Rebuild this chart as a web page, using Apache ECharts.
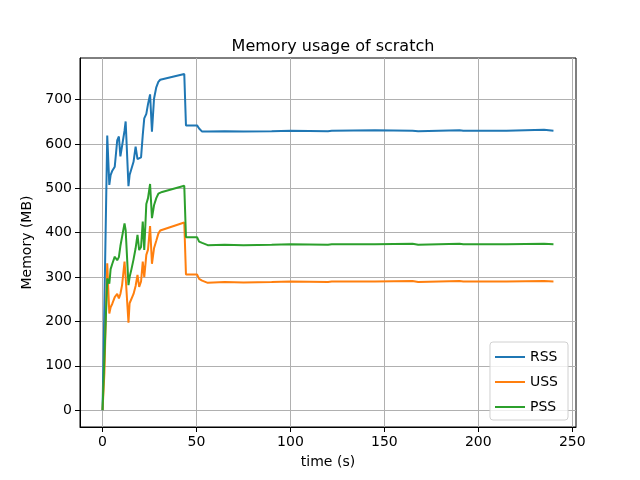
<!DOCTYPE html>
<html>
<head>
<meta charset="utf-8">
<script src="https://cdn.jsdelivr.net/npm/echarts@6/dist/echarts.min.js"></script>
<style>
  html, body { margin: 0; padding: 0; background: #fff; }
  #chart { width: 640px; height: 480px; }
</style>
</head>
<body>
<div id="chart"></div>
<script>
const times = [0, 1, 2.5, 3.6, 4.3, 5.2, 6.5, 7.8, 8.7, 9.5, 10.4, 11.7, 12.3, 13.8, 14.4, 15.4, 16.5, 17.6, 18.6, 19.5,
  20.5, 21.4, 22.2, 23.3, 24.2, 25.3, 26.3, 27.4, 28.6, 29.7, 30.7, 31.7, 43.5, 44.4, 50.3, 51.4, 53, 56, 65, 75,
  90, 100, 120, 122, 145, 165, 168, 190, 192, 215, 235, 240];

const rss = [0, 240, 619, 508, 530, 540, 549, 608, 617, 572, 574, 630, 651, 505, 530, 532, 560, 594, 566, 564,
  570, 620, 658, 668, 690, 712, 628, 702, 728, 740, 745, 741, 758, 642, 642, 635, 628, 628, 629, 628,
  629, 630, 629, 630, 631, 630, 629, 631, 630, 630, 632, 630];

const uss = [0, 85, 331, 218, 232, 240, 255, 262, 252, 262, 282, 335, 300, 197, 241, 245, 262, 280, 305, 278,
  290, 335, 300, 350, 362, 415, 330, 365, 382, 398, 405, 408, 423, 306, 306, 296, 292, 287, 289, 288,
  289, 290, 289, 290, 290, 291, 289, 291, 290, 290, 291, 290];

const pss = [0, 120, 297, 285, 318, 330, 346, 338, 345, 370, 372, 421, 406, 282, 300, 318, 340, 365, 395, 361,
  368, 425, 361, 465, 478, 510, 433, 462, 478, 488, 492, 492, 506, 390, 390, 380, 377, 372, 373, 372,
  373, 374, 373, 374, 374, 375, 373, 375, 374, 374, 375, 374];

const seriesNames = ["RSS", "USS", "PSS"];
const colors = ["#1f77b4", "#ff7f0e", "#2ca02c"];

const chart = echarts.init(document.getElementById("chart"), null, { renderer: "canvas" });

const font = "DejaVu Sans";

const makeSeries = (name, values, color) => ({
  name: name,
  type: "line",
  showSymbol: false,
  animation: false,
  lineStyle: { color: color, width: 2 },
  itemStyle: { color: color },
  data: times.map((t, i) => [t, values[i]]),
});

const axisCommon = {
  nameLocation: "middle",
  nameTextStyle: { fontFamily: font, fontSize: 14, color: "#000" },
  axisLine: { show: true, onZero: false, lineStyle: { color: "#000", width: 1 } },
  axisTick: { show: true, length: 5, lineStyle: { color: "#000" } },
  axisLabel: {
    showMinLabel: false,
    showMaxLabel: false,
    margin: 8,
    fontFamily: font,
    fontSize: 14,
    color: "#000",
  },
  splitLine: {
    show: true,
    showMinLine: false,
    showMaxLine: false,
    lineStyle: { color: "#b0b0b0", width: 1 },
  },
};

const option = {
  animation: false,
  title: {
    text: "Memory usage of scratch",
    left: 328,
    top: 34,
    textAlign: "center",
    textStyle: { fontFamily: font, fontSize: 16, fontWeight: "normal", color: "#000" },
  },
  grid: {
    left: 80,
    right: 64,
    top: 58,
    bottom: 53,
    show: true,
    borderColor: "#000",
    borderWidth: 1,
    containLabel: false,
  },
  legend: {
    right: 72,
    bottom: 60,
    orient: "vertical",
    data: seriesNames,
    icon: "rect",
    itemWidth: 30,
    itemHeight: 2,
    itemGap: 11,
    padding: [8, 10, 6, 5],
    backgroundColor: "rgba(255,255,255,0.8)",
    borderColor: "#d0d0d0",
    borderWidth: 1,
    borderRadius: 3,
    textStyle: { fontFamily: font, fontSize: 14, color: "#000" },
  },
  xAxis: Object.assign({}, axisCommon, {
    type: "value",
    min: -12,
    max: 252,
    splitNumber: 5,
    name: "time (s)",
    nameGap: 28,
  }),
  yAxis: Object.assign({}, axisCommon, {
    type: "value",
    min: -38,
    max: 794,
    splitNumber: 8,
    name: "Memory (MB)",
    nameGap: 43,
  }),
  series: [
    makeSeries("RSS", rss, colors[0]),
    makeSeries("USS", uss, colors[1]),
    makeSeries("PSS", pss, colors[2]),
  ],
};

chart.setOption(option);
</script>
</body>
</html>
